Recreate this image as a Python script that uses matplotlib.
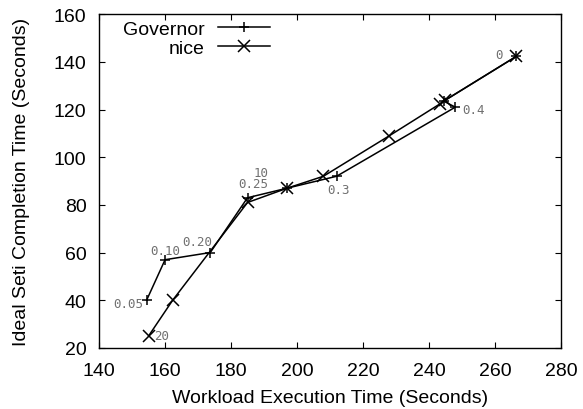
import matplotlib
matplotlib.use("Agg")
import matplotlib.pyplot as plt

plt.rcParams['font.family'] = ['Liberation Sans', 'DejaVu Sans']

# Governor series (+ markers)
gov_x = [154.4, 160, 173.7, 185, 197, 212, 248, 244.5, 266.5]
gov_y = [40, 57, 60, 83, 87, 92, 121, 123.5, 142.3]
gov_labels = ["0.05", "0.10", "0.20", "0.25", "", "0.3", "0.4", "", ""]

# nice series (x markers)
nice_x = [155, 162.3, 185, 197, 208, 228, 243.5, 245, 266.5]
nice_y = [25, 40, 81, 87, 92, 109, 122.5, 124, 142.3]
nice_labels = ["20", "", "", "10", "", "", "", "", "0"]

x_ticks = [140, 160, 180, 200, 220, 240, 260, 280]
y_ticks = [20, 40, 60, 80, 100, 120, 140, 160]

# label offsets (points) and alignment
gov_offsets = {"0.05": ((-2.4, -2.4), "right"), "0.10": ((0, 6.7), "center"),
               "0.20": ((1.7, 7.9), "right"), "0.25": ((-6.8, 9.9), "left"),
               "0.3": ((1.3, -9.6), "center"), "0.4": ((5.3, -1.9), "left")}
nice_offsets = {"20": ((4.3, 0), "left"), "10": ((-18.7, 11.5), "center"),
                "0": ((-9.6, 1.2), "right")}

fig = plt.figure(figsize=(5.83, 4.10), dpi=100)
ax = fig.add_axes([0.170, 0.149, 0.792, 0.814])

ax.plot(gov_x, gov_y, color='black', lw=1.1, marker='+', markersize=7.5,
        markeredgewidth=1.1, label='Governor')
ax.plot(nice_x, nice_y, color='black', lw=1.1, marker='x', markersize=8,
        markeredgewidth=1.1, label='nice')

lab_kw = dict(textcoords='offset points', va='center', fontsize=9,
              color='#707070', family=['DejaVu Sans Mono'])
for x, y, t in zip(gov_x, gov_y, gov_labels):
    if t:
        off, ha = gov_offsets[t]
        ax.annotate(t, (x, y), xytext=off, ha=ha, **lab_kw)
for x, y, t in zip(nice_x, nice_y, nice_labels):
    if t:
        off, ha = nice_offsets[t]
        ax.annotate(t, (x, y), xytext=off, ha=ha, **lab_kw)

ax.set_xlim(140, 280)
ax.set_ylim(20, 160)
ax.set_xticks(x_ticks)
ax.set_yticks(y_ticks)
ax.tick_params(direction='in', top=True, right=True, labelsize=14, length=4,
               width=0.8)
ax.tick_params(axis='x', pad=10)
ax.tick_params(axis='y', pad=9)
for s in ax.spines.values():
    s.set_linewidth(1.0)
ax.set_xlabel('Workload Execution Time (Seconds)', fontsize=14, labelpad=7)
ax.set_ylabel('Ideal Seti Completion Time (Seconds)', fontsize=14, labelpad=17)

ax.legend(loc='upper left', bbox_to_anchor=(0.052, 0.981), frameon=False,
          markerfirst=False, fontsize=14, handlelength=2.7, handletextpad=0.67,
          labelspacing=0.08, borderpad=0, borderaxespad=0)

fig.savefig('out.png', dpi=100)
